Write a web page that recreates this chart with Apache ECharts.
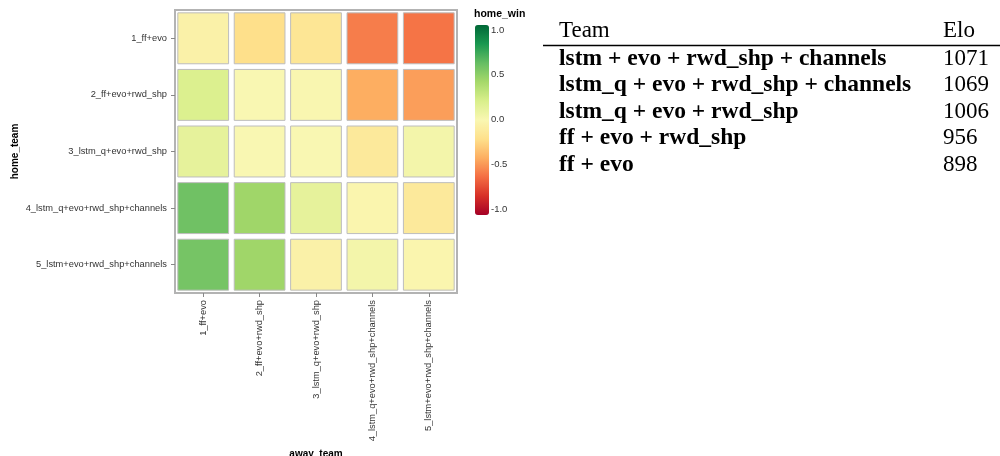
<!DOCTYPE html>
<html><head><meta charset="utf-8">
<script src="https://cdn.jsdelivr.net/npm/echarts@6/dist/echarts.min.js"></script>
<style>html,body{margin:0;padding:0;background:#fff}#c{width:1000px;height:456px}</style>
</head><body><div id="c"></div>
<script>
const teams = ['1_ff+evo','2_ff+evo+rwd_shp','3_lstm_q+evo+rwd_shp','4_lstm_q+evo+rwd_shp+channels','5_lstm+evo+rwd_shp+channels'];
// home_win[home][away]
const homeWin = [
  [-0.05, -0.20, -0.15, -0.55, -0.58],
  [ 0.18,  0.00, -0.01, -0.40, -0.45],
  [ 0.12,  0.00,  0.00, -0.12,  0.04],
  [ 0.57,  0.42,  0.12, -0.02, -0.12],
  [ 0.55,  0.42, -0.05,  0.04, -0.02]
];
const legendTicks = [-1, -0.5, 0, 0.5, 1];
const tableTeams = ['lstm + evo + rwd_shp + channels','lstm_q + evo + rwd_shp + channels','lstm_q + evo + rwd_shp','ff + evo + rwd_shp','ff + evo'];
const tableElo = [1071, 1069, 1006, 956, 898];
const rdylgn = ['#a50026','#d73027','#f46d43','#fdae61','#fee08b','#f9f7b2','#d9ef8b','#a6d96a','#66bd63','#1a9850','#006837'];

const data = [];
homeWin.forEach((row, i) => row.forEach((v, j) => data.push([j, i, v])));

const chart = echarts.init(document.getElementById('c'), null, {renderer:'canvas'});
const sans = 'Liberation Sans, Arial, sans-serif';
const serif = 'Liberation Serif, Times New Roman, serif';

const graphics = [];
graphics.push({type:'text', x:559, y:31, style:{text:'Team', font:'23px '+serif, fill:'#000', textVerticalAlign:'middle'}});
graphics.push({type:'text', x:943, y:31, style:{text:'Elo', font:'23px '+serif, fill:'#000', textVerticalAlign:'middle'}});
graphics.push({type:'line', shape:{x1:543, y1:45.5, x2:1000, y2:45.5}, style:{stroke:'#000', lineWidth:1.5}});
tableTeams.forEach((t, i) => {
  graphics.push({type:'text', x:559, y:58.5 + i*26.6, style:{text:t, font:'bold 23.5px '+serif, fill:'#000', textVerticalAlign:'middle'}});
  graphics.push({type:'text', x:943, y:58.5 + i*26.6, style:{text:String(tableElo[i]), font:'23px '+serif, fill:'#000', textVerticalAlign:'middle'}});
});

chart.setOption({
  animation:false,
  backgroundColor:'#fff',
  grid:[
    {left:175, top:10, width:282, height:283, show:true, borderColor:'#b3b3b3', borderWidth:2, backgroundColor:'transparent', outerBoundsMode:'none', containLabel:false},
    {left:475, top:30, width:14, height:179, show:false, outerBoundsMode:'none', containLabel:false}
  ],
  xAxis:[
    {type:'category', gridIndex:0, data:teams, name:'away_team', nameLocation:'middle', nameGap:155,
     nameTextStyle:{fontFamily:sans, fontSize:10, fontWeight:'bold', color:'#000'},
     axisLine:{show:false}, axisTick:{show:true, alignWithLabel:true, length:4, lineStyle:{color:'#888'}},
     axisLabel:{rotate:90, fontFamily:sans, fontSize:9.3, color:'#333', margin:7, interval:0},
     splitLine:{show:false}},
    {type:'value', gridIndex:1, show:false, min:0, max:1}
  ],
  yAxis:[
    {type:'category', gridIndex:0, data:teams, inverse:true, name:'home_team', nameLocation:'middle', nameGap:155, nameRotate:90,
     nameTextStyle:{fontFamily:sans, fontSize:10, fontWeight:'bold', color:'#000'},
     axisLine:{show:false}, axisTick:{show:true, alignWithLabel:true, length:4, lineStyle:{color:'#888'}},
     axisLabel:{fontFamily:sans, fontSize:9.3, color:'#333', margin:8, interval:0},
     splitLine:{show:false}},
    {type:'value', gridIndex:1, position:'right', min:-1, max:1, interval:0.5,
     axisLine:{show:false}, axisTick:{show:false}, splitLine:{show:false},
     axisLabel:{fontFamily:sans, fontSize:9.5, color:'#333', margin:2, formatter:v => v.toFixed(1)}}
  ],
  visualMap:{
    type:'continuous', min:-1, max:1, seriesIndex:0, calculable:false, show:true,
    left:475, top:25, itemWidth:14, itemHeight:190, text:['',''], showLabel:false,
    inRange:{color:rdylgn}, borderColor:'#ccc', padding:0
  },
  title:{text:'home_win', left:474, top:9, padding:0, textStyle:{fontFamily:sans, fontSize:10.5, fontWeight:'bold', color:'#000'}},
  series:[{
    type:'custom', xAxisIndex:0, yAxisIndex:0, data:data, encode:{x:0, y:1},
    renderItem:function(params, api){
      const c = api.coord([api.value(0), api.value(1)]);
      const s = api.size([1, 1]);
      const w = s[0]*0.9, h = s[1]*0.9;
      return {type:'rect', shape:{x:c[0]-w/2, y:c[1]-h/2, width:w, height:h},
        style:{fill:api.visual('color'), stroke:'#bdbdbd', lineWidth:1}};
    }
  }],
  graphic:graphics
});
</script></body></html>
